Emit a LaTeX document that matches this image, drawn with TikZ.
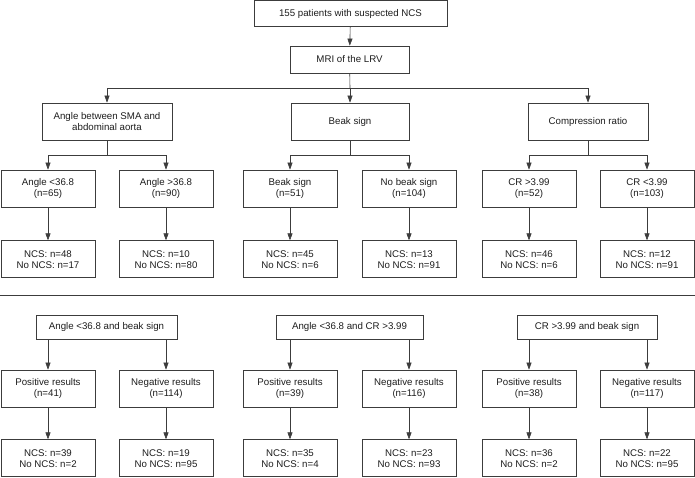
\documentclass[tikz,border=0pt]{standalone}
\usepackage{fontspec}
\setmainfont{Liberation Sans}
\usetikzlibrary{arrows.meta, positioning, calc}
\definecolor{linegray}{HTML}{3C3C3C}
\definecolor{textgray}{HTML}{1E1E1E}
\tikzset{
  box/.style={draw=linegray, line width=0.7pt, fill=white, align=center,
              inner sep=2pt, font=\fontsize{9.7}{11}\selectfont, text=textgray,
              minimum height=37pt},
  leaf/.style={box, minimum width=94pt},
  head/.style={box, minimum height=26pt},
  flow/.style={-{Triangle[length=7pt, width=5pt]}, line width=0.6pt, draw=linegray},
  link/.style={line width=0.6pt, draw=linegray},
}

\begin{document}
\begin{tikzpicture}[x=1pt, y=-1pt, node distance=33pt]
  \useasboundingbox (0,0) rectangle (695,477);
  % top part
  \node (start) [head, minimum width=193pt] at (350.5,13.5) {155 patients with suspected NCS};
  \node (mri)   [head, minimum width=119pt, minimum height=27pt] at (349.5,59.5) {MRI of the LRV};
  \node (angle) [box, minimum width=130pt] at (107,121.5) {Angle between SMA and\\abdominal aorta};
  \node (beak)  [box, minimum width=118pt] at (350,121.5) {Beak sign};
  \node (cr)    [box, minimum width=120pt] at (588,121.5) {Compression ratio};
  \draw[flow] (start) -- (mri);
  \coordinate (s1) at (350,88);
  \draw[link] (mri) -- (s1);
  \draw[flow] (s1) -| (angle);
  \draw[flow] (s1) -- (beak);
  \draw[flow] (s1) -| (cr);

  \node (a1) [leaf] at (48,188.5)    {Angle <36.8\\(n=65)};
  \node (a2) [leaf] at (166,188.5)   {Angle >36.8\\(n=90)};
  \node (b1) [leaf] at (290,188.5)   {Beak sign\\(n=51)};
  \node (b2) [leaf] at (409,188.5)   {No beak sign\\(n=104)};
  \node (c1) [leaf] at (529,188.5)   {CR >3.99\\(n=52)};
  \node (c2) [leaf] at (647,188.5)   {CR <3.99\\(n=103)};
  \coordinate (s2) at (107,155);
  \coordinate (s3) at (350,155);
  \coordinate (s4) at (588,155);
  \draw[link] (angle) -- (s2);
  \draw[flow] (s2) -| (a1);
  \draw[flow] (s2) -| (a2);
  \draw[link] (beak) -- (s3);
  \draw[flow] (s3) -| (b1);
  \draw[flow] (s3) -| (b2);
  \draw[link] (cr) -- (s4);
  \draw[flow] (s4) -| (c1);
  \draw[flow] (s4) -| (c2);

  \node (a1r) [leaf, below=of a1] {NCS: n=48\\No NCS: n=17};
  \node (a2r) [leaf, below=of a2] {NCS: n=10\\No NCS: n=80};
  \node (b1r) [leaf, below=of b1] {NCS: n=45\\No NCS: n=6};
  \node (b2r) [leaf, below=of b2] {NCS: n=13\\No NCS: n=91};
  \node (c1r) [leaf, below=of c1] {NCS: n=46\\No NCS: n=6};
  \node (c2r) [leaf, below=of c2] {NCS: n=12\\No NCS: n=91};
  \draw[flow] (a1) -- (a1r); \draw[flow] (a2) -- (a2r);
  \draw[flow] (b1) -- (b1r); \draw[flow] (b2) -- (b2r);
  \draw[flow] (c1) -- (c1r); \draw[flow] (c2) -- (c2r);

  % separator
  \coordinate (sepl) at (0,295);
  \coordinate (sepr) at (695,295);
  \draw[link] (sepl) -- (sepr);

  % combined criteria
  \node (ab) [box, minimum width=141pt, minimum height=24pt] at (106.5,327) {Angle <36.8 and beak sign};
  \node (ac) [box, minimum width=147pt, minimum height=24pt] at (349.5,327) {Angle <36.8 and CR >3.99};
  \node (cb) [box, minimum width=140pt, minimum height=24pt] at (587,327)   {CR >3.99 and beak sign};

  \node (abp) [leaf] at (48,388.5)  {Positive results\\(n=41)};
  \node (abn) [leaf] at (166,388.5) {Negative results\\(n=114)};
  \node (acp) [leaf] at (290,388.5) {Positive results\\(n=39)};
  \node (acn) [leaf] at (409,388.5) {Negative results\\(n=116)};
  \node (cbp) [leaf] at (529,388.5) {Positive results\\(n=38)};
  \node (cbn) [leaf] at (647,388.5) {Negative results\\(n=117)};
  \draw[flow] (abp |- ab.south) -- (abp);
  \draw[flow] (abn |- ab.south) -- (abn);
  \draw[flow] (acp |- ac.south) -- (acp);
  \draw[flow] (acn |- ac.south) -- (acn);
  \draw[flow] (cbp |- cb.south) -- (cbp);
  \draw[flow] (cbn |- cb.south) -- (cbn);

  \node (abpr) [leaf, below=32pt of abp] {NCS: n=39\\No NCS: n=2};
  \node (abnr) [leaf, below=32pt of abn] {NCS: n=19\\No NCS: n=95};
  \node (acpr) [leaf, below=32pt of acp] {NCS: n=35\\No NCS: n=4};
  \node (acnr) [leaf, below=32pt of acn] {NCS: n=23\\No NCS: n=93};
  \node (cbpr) [leaf, below=32pt of cbp] {NCS: n=36\\No NCS: n=2};
  \node (cbnr) [leaf, below=32pt of cbn] {NCS: n=22\\No NCS: n=95};
  \draw[flow] (abp) -- (abpr); \draw[flow] (abn) -- (abnr);
  \draw[flow] (acp) -- (acpr); \draw[flow] (acn) -- (acnr);
  \draw[flow] (cbp) -- (cbpr); \draw[flow] (cbn) -- (cbnr);
\end{tikzpicture}
\end{document}
